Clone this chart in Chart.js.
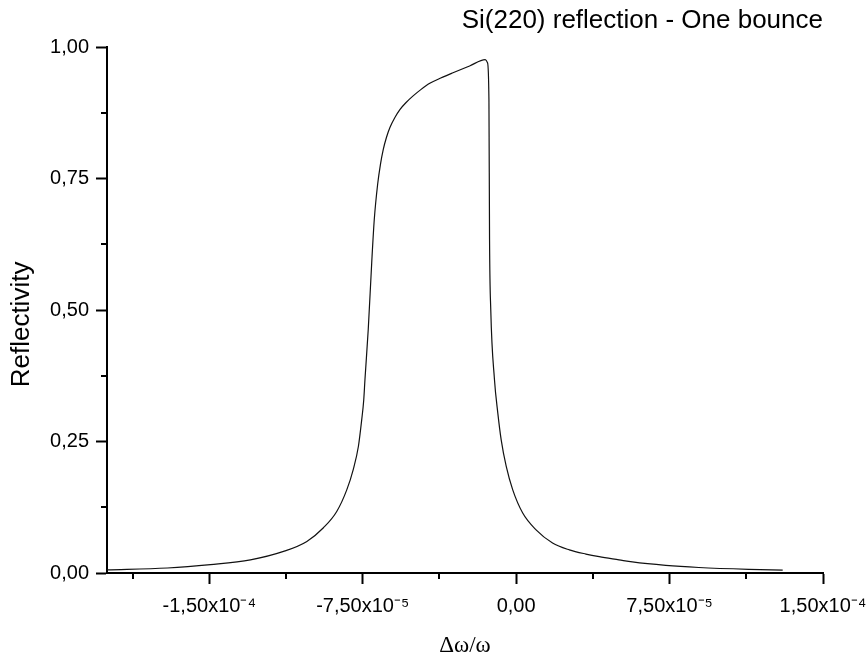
<!DOCTYPE html>
<html>
<head>
<meta charset="utf-8">
<script src="https://cdn.jsdelivr.net/npm/chart.js@4.4.1/dist/chart.umd.min.js"></script>
<style>
  html, body { margin: 0; padding: 0; background: #ffffff; }
  #wrap { width: 867px; height: 658px; position: relative; }
</style>
</head>
<body>
<div id="wrap"><canvas id="c" width="867" height="658"></canvas></div>
<script>
// ---------- data ----------
const chartTitle = 'Si(220) reflection - One bounce';
const xAxisTitle = 'Δω/ω';
const yAxisTitle = 'Reflectivity';

const deltaOmega = [
  -2.00e-4, -1.705e-4, -1.494e-4, -1.299e-4, -1.137e-4, -1.023e-4, -9.42e-5, -8.77e-5,
  -8.28e-5, -7.96e-5, -7.71e-5, -7.55e-5, -7.45e-5, -7.39e-5, -7.23e-5, -7.06e-5,
  -6.935e-5, -6.77e-5, -6.633e-5, -6.497e-5, -6.341e-5, -6.170e-5, -5.927e-5, -5.683e-5,
  -5.391e-5, -5.036e-5, -4.661e-5, -4.222e-5, -3.686e-5, -3.088e-5, -2.274e-5, -1.510e-5,
  -1.40e-5, -1.33e-5, -1.30e-5, -1.24e-5,
  -1.06e-5, -8.96e-6, -7.31e-6, -4.87e-6, -1.66e-6, 3.21e-6, 9.74e-6, 1.78e-5,
  2.60e-5, 3.41e-5, 4.06e-5, 5.03e-5, 5.68e-5, 7.31e-5, 8.93e-5, 1.136e-4, 1.303e-4
];
const reflectivity = [
  0.006, 0.0095, 0.016, 0.025, 0.041, 0.060, 0.086, 0.117,
  0.158, 0.197, 0.241, 0.291, 0.329, 0.368, 0.463, 0.590,
  0.672, 0.739, 0.777, 0.805, 0.828, 0.847, 0.866, 0.881,
  0.894, 0.907, 0.919, 0.931, 0.941, 0.951, 0.964, 0.976,
  0.970, 0.900, 0.634, 0.500,
  0.368, 0.304, 0.253, 0.203, 0.158, 0.114, 0.082, 0.057,
  0.044, 0.036, 0.031, 0.025, 0.021, 0.0145, 0.0105, 0.0070, 0.0055
];

const xRange = [-2.0e-4, 1.5e-4];
const yRange = [0, 1.0];
const xTickValues = [-1.5e-4, -7.5e-5, 0, 7.5e-5, 1.5e-4];
const xTickLabels = ['-1,50x10⁻⁴', '-7,50x10⁻⁵', '0,00', '7,50x10⁻⁵', '1,50x10⁻⁴'];
const xMinorTicks = [-1.875e-4, -1.125e-4, -3.75e-5, 3.75e-5, 1.125e-4];
const yTickValues = [0, 0.25, 0.5, 0.75, 1.0];
const yTickLabels = ['0,00', '0,25', '0,50', '0,75', '1,00'];
const yMinorTicks = [0.125, 0.375, 0.625, 0.875];

// ---------- helpers ----------
const SANS = "'Liberation Sans', Arial, sans-serif";
const SERIF = "'Liberation Serif', 'Times New Roman', serif";

function labelFor(values, labels, v) {
  const i = values.findIndex(t => Math.abs(t - v) < 1e-12);
  return i >= 0 ? labels[i] : '';
}

const minorTicksPlugin = {
  id: 'minorTicks',
  afterDraw(chart) {
    const { ctx, chartArea, scales: { x, y } } = chart;
    ctx.save();
    ctx.strokeStyle = '#000';
    ctx.lineWidth = 2;
    ctx.beginPath();
    xMinorTicks.forEach(v => {
      const px = Math.round(x.getPixelForValue(v));
      ctx.moveTo(px, chartArea.bottom);
      ctx.lineTo(px, chartArea.bottom + 6);
    });
    yMinorTicks.forEach(v => {
      const py = Math.round(y.getPixelForValue(v));
      ctx.moveTo(chartArea.left - 6, py);
      ctx.lineTo(chartArea.left, py);
    });
    ctx.stroke();
    ctx.restore();
  }
};

const points = deltaOmega.map((xv, i) => ({ x: xv, y: reflectivity[i] }));

new Chart(document.getElementById('c'), {
  type: 'line',
  data: {
    datasets: [{
      data: points,
      borderColor: '#111',
      borderWidth: 1.2,
      pointRadius: 0,
      fill: false,
      cubicInterpolationMode: 'monotone'
    }]
  },
  options: {
    responsive: false,
    animation: false,
    layout: { padding: { left: 0, right: 44, top: 0, bottom: 0 } },
    plugins: {
      legend: { display: false },
      tooltip: { enabled: false },
      title: {
        display: true,
        text: chartTitle,
        align: 'end',
        color: '#000',
        font: { family: SANS, size: 26, weight: 'normal', lineHeight: 1.2 },
        padding: { top: 5.4, bottom: 10.4 }
      }
    },
    scales: {
      x: {
        type: 'linear',
        min: xRange[0],
        max: xRange[1],
        afterBuildTicks: s => { s.ticks = xTickValues.map(v => ({ value: v })); },
        afterFit: s => { s.height = 85; s.paddingLeft = 0; s.paddingRight = 0; },
        ticks: {
          color: '#000',
          font: { family: SANS, size: 20 },
          padding: 10,
          maxRotation: 0,
          autoSkip: false,
          callback: v => labelFor(xTickValues, xTickLabels, v)
        },
        grid: { display: true, drawOnChartArea: false, drawTicks: true, tickLength: 11, tickWidth: 2, tickColor: '#000', color: '#000' },
        border: { display: true, color: '#000', width: 2 },
        title: {
          display: true,
          text: xAxisTitle,
          color: '#000',
          font: { family: SERIF, size: 23, lineHeight: 1.0 },
          padding: { top: 0, bottom: 0.5 }
        }
      },
      y: {
        type: 'linear',
        min: yRange[0],
        max: yRange[1],
        afterBuildTicks: s => { s.ticks = yTickValues.map(v => ({ value: v })); },
        afterFit: s => { s.width = 107; s.paddingTop = 0; s.paddingBottom = 0; },
        ticks: {
          color: '#000',
          font: { family: SANS, size: 20 },
          padding: 7,
          autoSkip: false,
          callback: v => labelFor(yTickValues, yTickLabels, v)
        },
        grid: { display: true, drawOnChartArea: false, drawTicks: true, tickLength: 11, tickWidth: 2, tickColor: '#000', color: '#000' },
        border: { display: true, color: '#000', width: 2 },
        title: {
          display: true,
          text: yAxisTitle + '    ',
          color: '#000',
          font: { family: SANS, size: 26, lineHeight: 1.2 },
          padding: { top: 6, bottom: 0 }
        }
      }
    }
  },
  plugins: [minorTicksPlugin]
});
</script>
</body>
</html>
